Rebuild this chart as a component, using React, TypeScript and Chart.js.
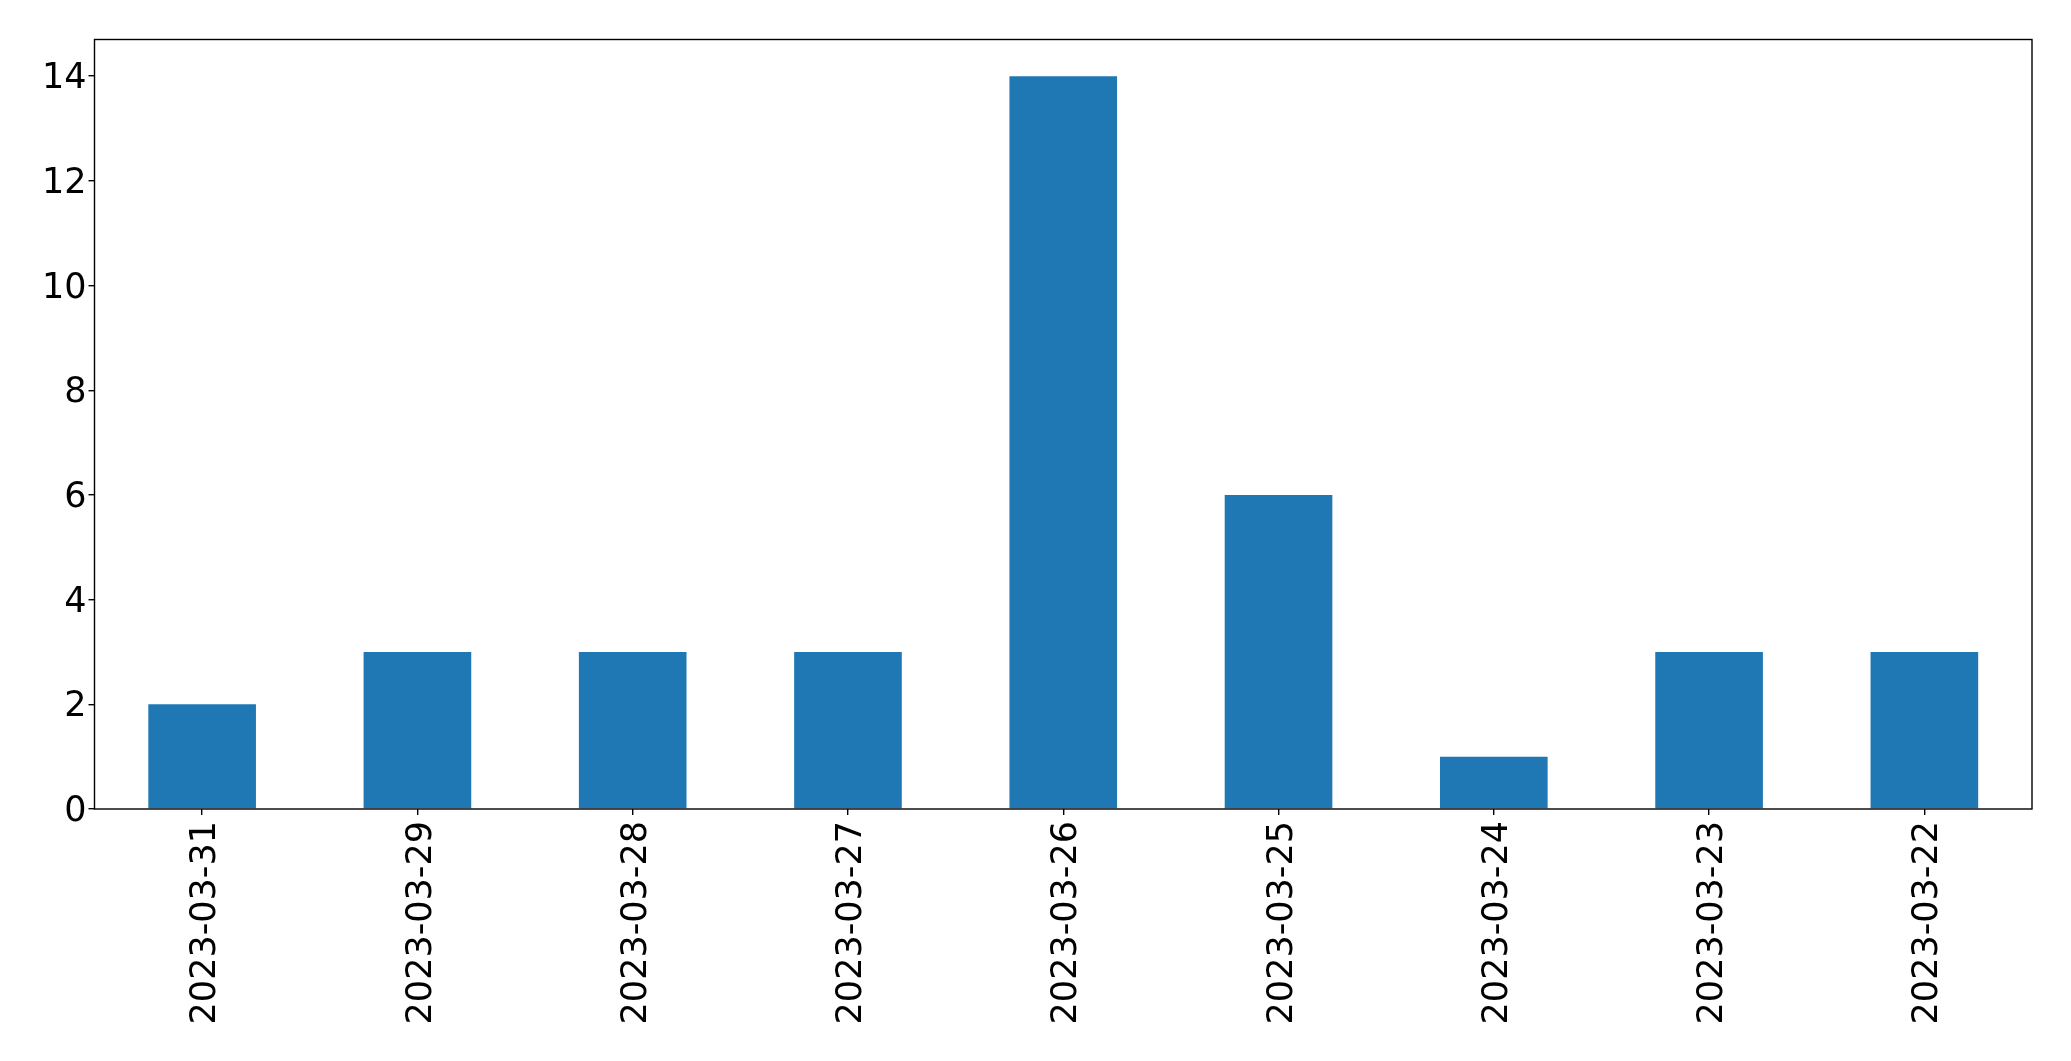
import React, { useEffect, useRef } from "react";
import { Chart, registerables } from "chart.js";

Chart.register(...registerables);

const categories = [
  "2023-03-31",
  "2023-03-29",
  "2023-03-28",
  "2023-03-27",
  "2023-03-26",
  "2023-03-25",
  "2023-03-24",
  "2023-03-23",
  "2023-03-22",
];
const counts = [2, 3, 3, 3, 14, 6, 1, 3, 3];
const yTicks = [0, 2, 4, 6, 8, 10, 12, 14];
const yMax = 14.7;

const frame = {
  id: "frame",
  afterDatasetsDraw(chart: any) {
    const { ctx, chartArea } = chart;
    ctx.save();
    ctx.strokeStyle = "#000";
    ctx.lineWidth = 1.4;
    ctx.strokeRect(chartArea.left, chartArea.top, chartArea.right - chartArea.left, chartArea.bottom - chartArea.top);
    ctx.restore();
  },
};

export default function App() {
  const ref = useRef<HTMLCanvasElement | null>(null);
  useEffect(() => {
    document.body.style.margin = "0";
    const font = { family: "'DejaVu Sans'", size: 35 };
    const chart = new Chart(ref.current!, {
      type: "bar",
      data: {
        labels: categories,
        datasets: [
          {
            data: counts,
            backgroundColor: "#1f77b4",
            barPercentage: 0.5,
            categoryPercentage: 1,
          },
        ],
      },
      options: {
        responsive: false,
        animation: false,
        layout: { padding: { top: 39.5, right: 39, left: 0, bottom: 0 } },
        plugins: { legend: { display: false }, tooltip: { enabled: false } },
        scales: {
          x: {
            grid: { drawOnChartArea: false, drawTicks: true, tickLength: 6, color: "#000", lineWidth: 1.4, offset: false },
            border: { display: false },
            ticks: { color: "#000", font, minRotation: 90, maxRotation: 90, padding: 6, labelOffset: 4, autoSkip: false },
            afterFit: (s: any) => {
              s.height = 252;
            },
          },
          y: {
            min: 0,
            max: yMax,
            grid: { drawOnChartArea: false, drawTicks: true, tickLength: 6, color: "#000", lineWidth: 1.4 },
            border: { display: false },
            ticks: { color: "#000", font, padding: 2, labelOffset: 3, includeBounds: false },
            afterBuildTicks: (s: any) => {
              s.ticks = yTicks.map((v) => ({ value: v }));
            },
            afterFit: (s: any) => {
              s.width = 94.5;
            },
          },
        },
      },
      plugins: [frame],
    });
    return () => chart.destroy();
  }, []);
  return <canvas ref={ref} width={2071} height={1061} style={{ display: "block" }} />;
}
